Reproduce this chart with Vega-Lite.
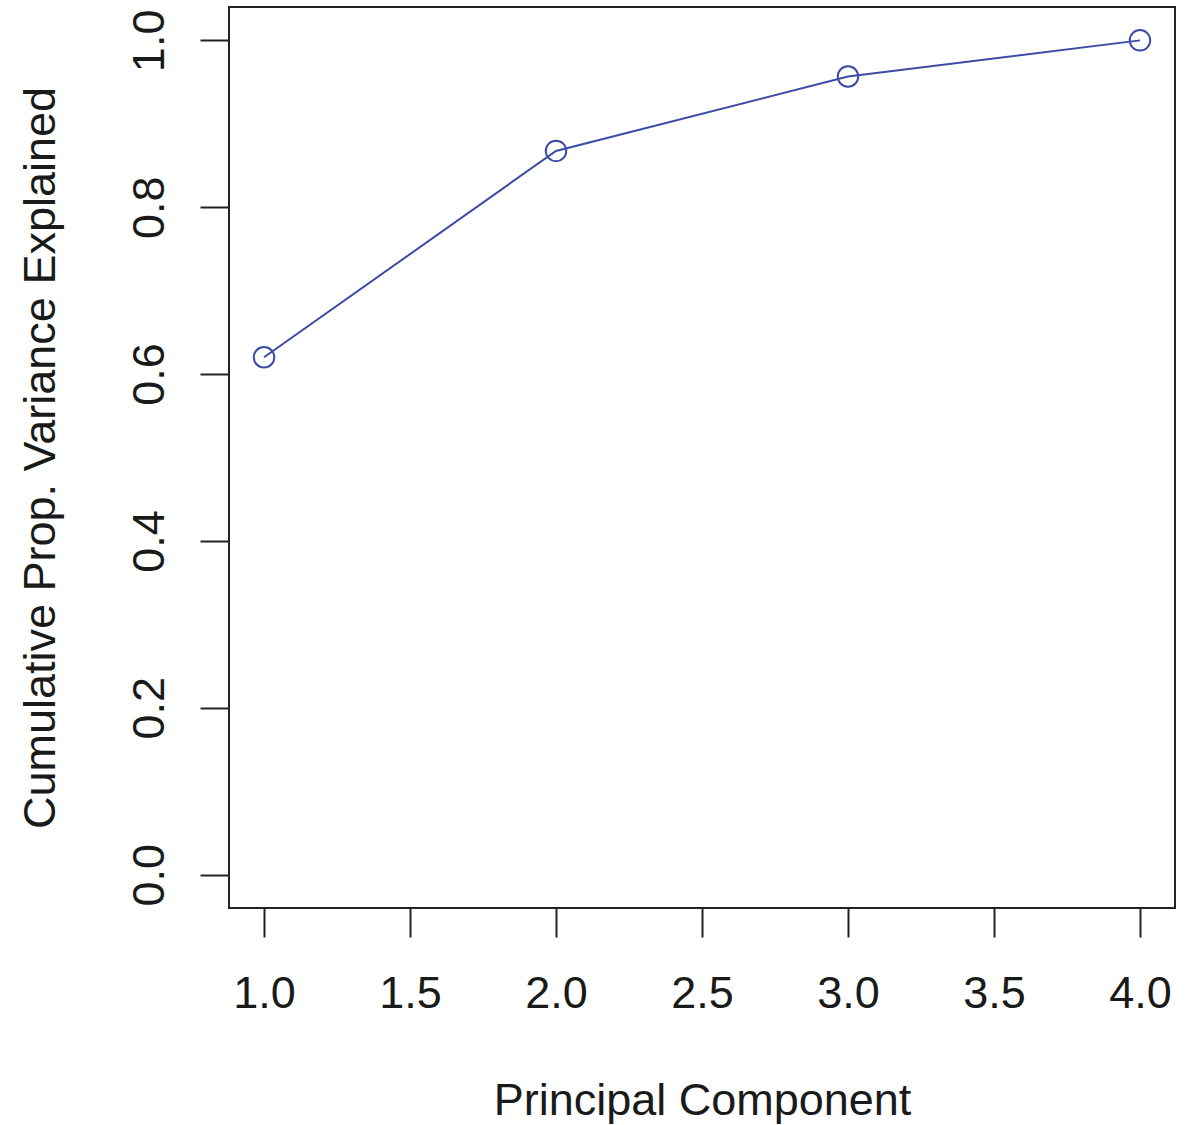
{
  "$schema": "https://vega.github.io/schema/vega-lite/v6.json",
  "width": 946,
  "height": 901,
  "autosize": "none",
  "padding": {"left": 229, "top": 7, "right": 16, "bottom": 217},
  "background": "white",
  "data": {
    "values": [
      {"pc": 1, "cumvar": 0.6201},
      {"pc": 2, "cumvar": 0.8675},
      {"pc": 3, "cumvar": 0.9566},
      {"pc": 4, "cumvar": 1.0}
    ]
  },
  "config": {
    "font": "Liberation Sans",
    "view": {"stroke": "#222222", "strokeWidth": 2},
    "axis": {
      "domain": false,
      "grid": false,
      "ticks": true,
      "tickColor": "#222222",
      "tickWidth": 2,
      "tickSize": 29,
      "labelFont": "Liberation Sans",
      "labelFontSize": 45,
      "labelColor": "#1a1a1a",
      "titleFont": "Liberation Sans",
      "titleFontSize": 45,
      "titleFontWeight": "normal",
      "titleColor": "#1a1a1a"
    }
  },
  "encoding": {
    "x": {
      "field": "pc",
      "type": "quantitative",
      "scale": {"domain": [0.88, 4.12], "nice": false, "zero": false},
      "axis": {
        "title": "Principal Component",
        "values": [1, 1.5, 2, 2.5, 3, 3.5, 4],
        "format": ".1f",
        "labelAngle": 0,
        "labelAlign": "center",
        "labelBaseline": "alphabetic",
        "labelPadding": 70,
        "labelFlush": false,
        "labelOverlap": false,
        "titleX": 473,
        "titleY": 206,
        "titleAlign": "center",
        "titleBaseline": "alphabetic"
      }
    },
    "y": {
      "field": "cumvar",
      "type": "quantitative",
      "scale": {"domain": [-0.04, 1.04], "nice": false, "zero": false},
      "axis": {
        "title": "Cumulative Prop. Variance Explained",
        "values": [0, 0.2, 0.4, 0.6, 0.8, 1.0],
        "format": ".1f",
        "labelAngle": -90,
        "labelAlign": "center",
        "labelBaseline": "alphabetic",
        "labelPadding": 37,
        "labelFlush": false,
        "labelOverlap": false,
        "titleAngle": -90,
        "titleX": -175,
        "titleY": 450.5,
        "titleAlign": "center",
        "titleBaseline": "alphabetic"
      }
    }
  },
  "layer": [
    {
      "mark": {"type": "line", "color": "#3b4ba6", "strokeWidth": 2}
    },
    {
      "mark": {
        "type": "point",
        "shape": "circle",
        "filled": false,
        "size": 420,
        "strokeWidth": 2,
        "color": "#3b4ba6",
        "opacity": 1
      }
    }
  ]
}
